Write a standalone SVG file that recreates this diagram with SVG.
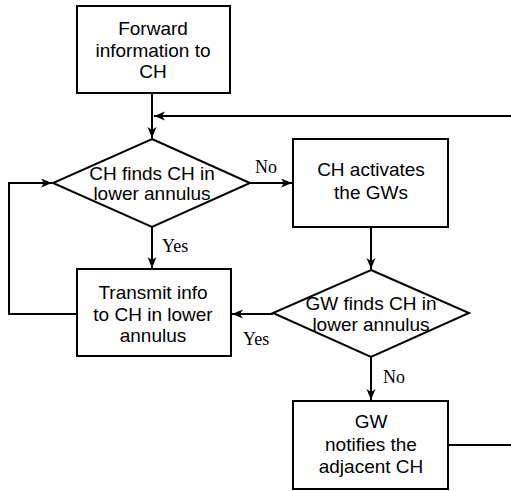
<svg xmlns="http://www.w3.org/2000/svg" width="511" height="491" viewBox="0 0 511 491">
<style>
.shape{fill:#fff;stroke:#000;stroke-width:2}
.line{fill:none;stroke:#000;stroke-width:2}
.t{font-family:"Liberation Sans",Arial,sans-serif;font-size:19px;fill:#000;text-anchor:middle}
.lbl{font-family:"Liberation Serif","Times New Roman",serif;font-size:18px;fill:#000}
</style>
<defs>
<marker id="arr" markerUnits="userSpaceOnUse" markerWidth="12" markerHeight="10" refX="11" refY="4.5" orient="auto">
<path d="M0,0 L11,4.5 L0,9 L3,4.5 Z" fill="#000"/>
</marker>
</defs>
<rect width="511" height="491" fill="#fff"/>
<g id="connectors">
<path class="line" d="M152,93 L152,138" marker-end="url(#arr)"/>
<path class="line" d="M511,116 L154,116" marker-end="url(#arr)"/>
<path class="line" d="M250,183 L292,183" marker-end="url(#arr)"/>
<path class="line" d="M152,227 L152,268" marker-end="url(#arr)"/>
<path class="line" d="M371,227 L371,269" marker-end="url(#arr)"/>
<path class="line" d="M273,314 L232,314" marker-end="url(#arr)"/>
<path class="line" d="M371,357 L371,400" marker-end="url(#arr)"/>
<path class="line" d="M77,314 L9,314 L9,183 L52,183" marker-end="url(#arr)"/>
<path class="line" d="M448,445 L511,445"/>
<text class="lbl" x="255" y="173">No</text>
<text class="lbl" x="162" y="252">Yes</text>
<text class="lbl" x="243" y="345">Yes</text>
<text class="lbl" x="383" y="383">No</text>
</g>
<g id="forward">
<rect class="shape" x="77" y="6" width="153" height="87"/>
<text class="t" x="153" y="35">Forward</text>
<text class="t" x="153" y="57">information to</text>
<text class="t" x="153" y="78">CH</text>
</g>
<g id="decision1">
<polygon class="shape" points="152,139 250,183 152,227 53,183"/>
<text class="t" x="152" y="180">CH finds CH in</text>
<text class="t" x="152" y="200">lower annulus</text>
</g>
<g id="activate">
<rect class="shape" x="293" y="139" width="155" height="88"/>
<text class="t" x="371" y="176">CH activates</text>
<text class="t" x="371" y="199">the GWs</text>
</g>
<g id="decision2">
<polygon class="shape" points="371,270 469,313 371,357 273,313"/>
<text class="t" x="371" y="310">GW finds CH in</text>
<text class="t" x="371" y="331">lower annulus</text>
</g>
<g id="transmit">
<rect class="shape" x="77" y="269" width="154" height="87"/>
<text class="t" x="153" y="299">Transmit info</text>
<text class="t" x="153" y="321">to CH in lower</text>
<text class="t" x="153" y="342">annulus</text>
</g>
<g id="notify">
<rect class="shape" x="293" y="401" width="155" height="88"/>
<text class="t" x="371" y="428">GW</text>
<text class="t" x="371" y="451">notifies the</text>
<text class="t" x="371" y="473">adjacent CH</text>
</g>
</svg>
